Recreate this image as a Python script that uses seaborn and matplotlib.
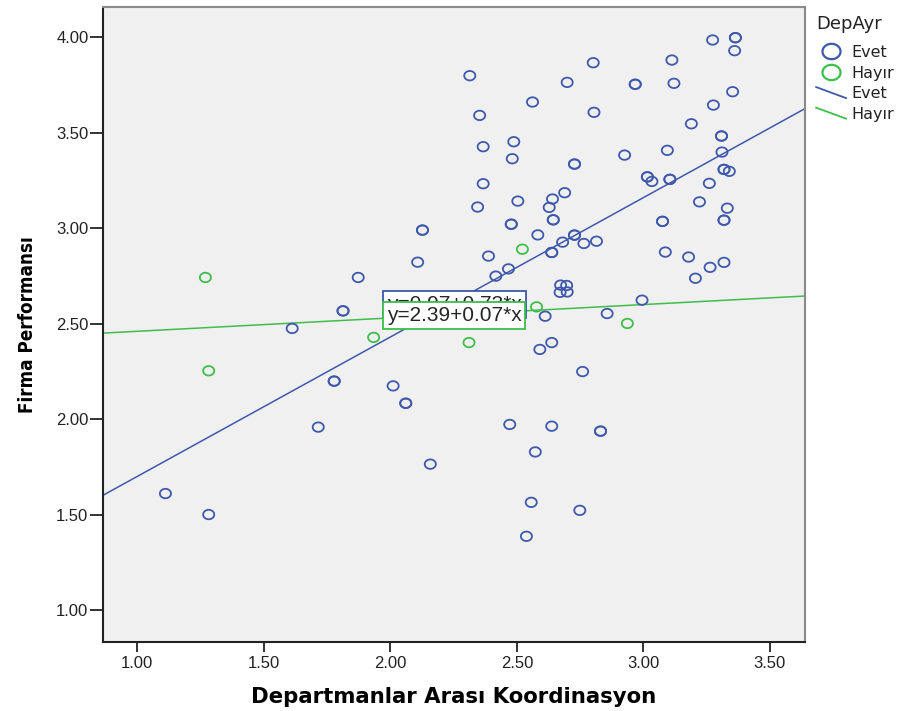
import matplotlib
matplotlib.use("Agg")
import matplotlib.pyplot as plt
from matplotlib.lines import Line2D
from matplotlib.path import Path
from matplotlib.legend_handler import HandlerBase
import numpy as np
import seaborn as sns
import pandas as pd

# ---- data ----
evet_x = [2.314, 2.802, 2.699, 2.968, 2.968, 3.113, 3.121, 3.274, 3.364, 3.364,
          3.361, 3.353, 3.277, 3.190, 3.309, 3.309, 3.311, 3.095, 2.926, 2.805,
          2.562, 2.353, 2.367, 2.488, 2.482, 2.728, 2.728, 2.367, 2.504, 2.345,
          2.478, 2.478, 2.641, 2.628, 2.689, 2.644, 2.644, 2.583, 2.681, 2.728,
          2.728, 2.765, 2.815, 2.638, 2.638, 2.388, 2.467, 2.417, 2.673, 2.697,
          2.671, 2.699, 2.995, 2.612, 2.857, 3.016, 3.016, 3.034, 3.105, 3.105,
          3.261, 3.319, 3.319, 3.340, 3.222, 3.332, 3.319, 3.319, 3.076, 3.076,
          3.087, 3.179, 3.264, 3.319, 3.206, 2.127, 2.127, 2.108, 1.873, 1.813,
          1.813, 1.612, 1.778, 1.778, 2.011, 2.061, 2.061, 1.715, 2.158, 1.111,
          1.282, 2.638, 2.591, 2.760, 2.472, 2.638, 2.831, 2.831, 2.573, 2.557,
          2.749, 2.538]
evet_y = [3.799, 3.867, 3.764, 3.754, 3.754, 3.881, 3.759, 3.986, 3.998, 3.998,
          3.930, 3.715, 3.645, 3.547, 3.483, 3.483, 3.399, 3.408, 3.383, 3.607,
          3.661, 3.591, 3.427, 3.453, 3.364, 3.336, 3.336, 3.233, 3.142, 3.111,
          3.021, 3.021, 3.153, 3.109, 3.186, 3.044, 3.044, 2.965, 2.927, 2.964,
          2.964, 2.920, 2.932, 2.873, 2.873, 2.854, 2.787, 2.749, 2.702, 2.700,
          2.664, 2.666, 2.623, 2.539, 2.553, 3.269, 3.269, 3.245, 3.256, 3.256,
          3.235, 3.308, 3.308, 3.298, 3.138, 3.105, 3.042, 3.042, 3.036, 3.036,
          2.875, 2.849, 2.795, 2.821, 2.738, 2.990, 2.990, 2.822, 2.742, 2.567,
          2.567, 2.475, 2.199, 2.199, 2.174, 2.083, 2.083, 1.958, 1.764, 1.610,
          1.500, 2.401, 2.365, 2.249, 1.972, 1.963, 1.937, 1.937, 1.828, 1.564,
          1.522, 1.386]
hayir_x = [1.269, 1.282, 1.934, 2.311, 2.522, 2.578, 2.937]
hayir_y = [2.742, 2.253, 2.428, 2.401, 2.890, 2.588, 2.501]

groups = ["Evet", "Hayır"]
intercepts = [0.97, 2.39]
slopes = [0.73, 0.07]
eq_labels = ["y=0.97+0.73*x", "y=2.39+0.07*x"]
x_ticks = [1.0, 1.5, 2.0, 2.5, 3.0, 3.5]
y_ticks = [1.0, 1.5, 2.0, 2.5, 3.0, 3.5, 4.0]

colors = {"Evet": "#3E58AC", "Hayır": "#3EBE4A"}

df = pd.DataFrame({
    "x": evet_x + hayir_x,
    "y": evet_y + hayir_y,
    "DepAyr": ["Evet"] * len(evet_x) + ["Hayır"] * len(hayir_x),
})

sns.set_theme(style="white")
plt.rcParams["font.family"] = ["Liberation Sans", "DejaVu Sans"]

# slightly flattened open circle, as in the SPSS output
t = np.linspace(0, 2 * np.pi, 60)
oval = Path(np.column_stack([np.cos(t), 0.85 * np.sin(t)]), closed=True)

fig = plt.figure(figsize=(9, 7.11), dpi=100)
ax = fig.add_axes([0.1144, 0.0975, 0.78, 0.8927])
ax.set_facecolor("#F0F0F0")

for g in groups:
    sub = df[df["DepAyr"] == g]
    sns.scatterplot(data=sub, x="x", y="y", color=colors[g], s=64, marker=oval,
                    ax=ax, legend=False, zorder=3)
    coll = ax.collections[-1]
    coll.set_facecolor("none")
    coll.set_edgecolor(colors[g])
    coll.set_linewidth(1.3)

for g, b, m in zip(groups, intercepts, slopes):
    ax.axline((0, b), slope=m, color=colors[g], lw=1.1, zorder=2)

ax.set_xlim(0.864, 3.639)
ax.set_ylim(0.834, 4.159)
ax.set_xticks(x_ticks)
ax.set_yticks(y_ticks)
ax.set_xticklabels([f"{v:.2f}" for v in x_ticks])
ax.set_yticklabels([f"{v:.2f}" for v in y_ticks])
ax.tick_params(axis="x", direction="out", length=7, width=1.3, color="#222222",
               labelsize=12, labelcolor="#222222", pad=3, bottom=True)
ax.tick_params(axis="y", direction="out", length=9.5, width=1.3, color="#222222",
               labelsize=12, labelcolor="#222222", pad=1, left=True)

for s in ["left", "bottom"]:
    ax.spines[s].set_color("#222222")
    ax.spines[s].set_linewidth(1.5)
for s in ["top", "right"]:
    ax.spines[s].set_color("#8A8A8A")
    ax.spines[s].set_linewidth(1.5)

ax.set_xlabel("Departmanlar Arası Koordinasyon", fontsize=15.3, fontweight="bold",
              labelpad=12, color="black", family=["DejaVu Sans"])
ax.set_ylabel("Firma Performansı", fontsize=13.5, fontweight="bold", labelpad=14,
              color="black", family=["DejaVu Sans"], fontstretch="condensed")

# equation labels (the green one sits on top of the blue one, as in the reference)
ax.text(2.253, 2.600, eq_labels[0], fontsize=15, ha="center", va="center", zorder=5,
        bbox=dict(boxstyle="square,pad=0.18", fc="white", ec=colors["Evet"], lw=1.3))
ax.text(2.253, 2.542, eq_labels[1], fontsize=15, ha="center", va="center", zorder=6,
        bbox=dict(boxstyle="square,pad=0.18", fc="white", ec=colors["Hayır"], lw=1.3))


class DiagonalLine(HandlerBase):
    def create_artists(self, legend, orig_handle, xdescent, ydescent, width,
                       height, fontsize, trans):
        ln = Line2D([-xdescent, -xdescent + width],
                    [-ydescent + height, -ydescent],
                    color=orig_handle.get_color(), lw=orig_handle.get_linewidth(),
                    transform=trans)
        return [ln]


line_evet = Line2D([], [], color=colors["Evet"], lw=1.3)
line_hayir = Line2D([], [], color=colors["Hayır"], lw=1.3)
handles = [
    Line2D([], [], marker=oval, ls="none", mfc="none", mec=colors["Evet"], ms=13, mew=1.6),
    Line2D([], [], marker=oval, ls="none", mfc="none", mec=colors["Hayır"], ms=13, mew=1.6),
    line_evet,
    line_hayir,
]
fig.text(816 / 900, 1 - 24 / 711, "DepAyr", fontsize=13, ha="left", va="center",
         family=["DejaVu Sans"], color="#222222")
leg = fig.legend(handles, groups + groups, loc="upper left",
                 bbox_to_anchor=(0.9066, 1 - 45 / 711), frameon=False,
                 handlelength=1.9, handletextpad=0.3,
                 labelspacing=0.35, borderaxespad=0, borderpad=0,
                 handler_map={line_evet: DiagonalLine(), line_hayir: DiagonalLine()},
                 prop={"family": ["DejaVu Sans"], "size": 11.5})
for txt in leg.get_texts():
    txt.set_color("#222222")

fig.savefig("out.png", dpi=100)
